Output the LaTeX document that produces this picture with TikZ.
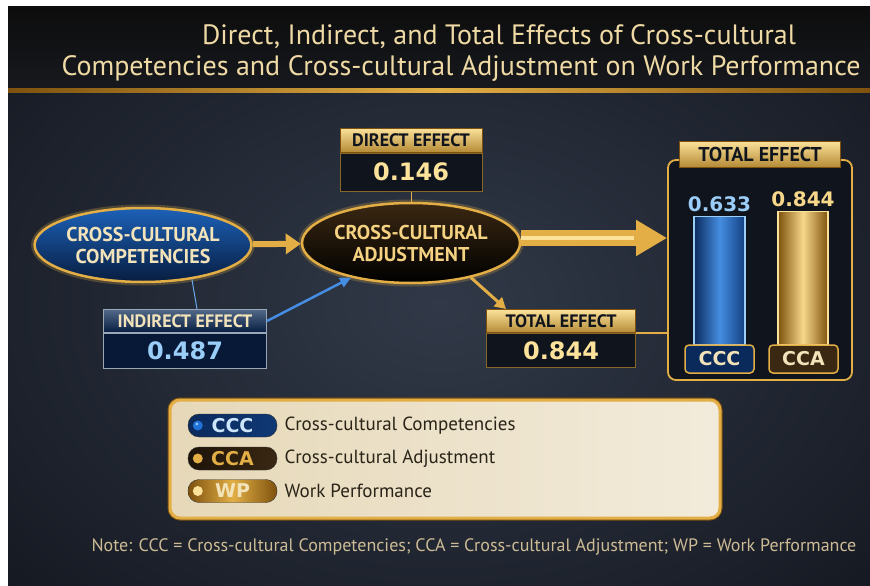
\documentclass[tikz,border=0pt]{standalone}
\usepackage{fontspec}
\setmainfont{PT Sans}
\newfontfamily\widefont{DejaVu Sans}
\usetikzlibrary{shapes.geometric, positioning, arrows.meta}

\definecolor{gold}{HTML}{E2AE45}
\definecolor{goldlight}{HTML}{FCE29A}
\definecolor{golddark}{HTML}{7E520E}
\definecolor{cream}{HTML}{F2E3BA}
\definecolor{titlegold}{HTML}{EFD9A4}
\definecolor{navy}{HTML}{0B2A5C}
\definecolor{bluemid}{HTML}{2172D8}
\definecolor{bluelight}{HTML}{9ACDF8}
\definecolor{ink}{HTML}{10141C}
\definecolor{steel}{HTML}{9AA7B6}
\definecolor{ccabrown}{HTML}{3A2812}
\definecolor{parchment}{HTML}{E6D8B8}
\definecolor{legendink}{HTML}{2A2418}
\definecolor{notetext}{HTML}{CDBB95}
\definecolor{bgmid}{HTML}{313948}
\definecolor{bgedge}{HTML}{0E1118}
\definecolor{bgtop}{HTML}{17191E}

\newcommand{\fsz}[1]{\fontsize{#1}{#1}\selectfont}

\tikzset{
	construct/.style={ellipse, draw=gold, line width=2.5pt, inner sep=0pt, align=center, font=\bfseries\fontsize{20}{22}\selectfont, preaction={draw=gold, line width=7pt, opacity=0.25}},
	taglabel/.style={draw=golddark, line width=1pt, top color=goldlight, bottom color=gold!80!black, text=ink, inner sep=0pt, minimum height=24pt, font=\bfseries\fsz{18}},
	tagvalue/.style={draw=gold!60!black, line width=1pt, fill=ink, text=goldlight, inner sep=0pt, minimum height=36pt, font=\widefont\bfseries\fsz{24}},
	bar/.style={draw, line width=1.5pt, anchor=south, inner sep=0pt},
	bartag/.style={draw=gold, line width=1.5pt, rounded corners=4pt, minimum width=69pt, minimum height=28pt, inner sep=0pt, text=cream, font=\widefont\bfseries\fsz{19}},
	pill/.style={draw=black!80, rounded corners=11pt, minimum width=89pt, minimum height=23pt, inner sep=0pt, font=\widefont\bfseries\fsz{19}},
	legendtext/.style={text=legendink, font=\fsz{19}},
}

\begin{document}
\begin{tikzpicture}[x=1pt, y=-1pt]
	\useasboundingbox (0,0) rectangle (870,586);
	\fill[white] (0,0) rectangle (870,586);
	\clip (8,7) rectangle (870,586);
	\fill[bgedge] (8,7) rectangle (870,586);
	\shade[inner color=bgmid, outer color=bgedge] (-300,-220) rectangle (1180,830);
	\shade[top color=black!95, bottom color=bgtop] (8,7) rectangle (870,90);
	\shade[left color=golddark, right color=golddark, middle color=gold] (8,88) rectangle (870,92);

	\node[text=titlegold, font=\fsz{28}] (title1) at (499,37) {Direct, Indirect, and Total Effects of Cross-cultural};
	\node[text=titlegold, font=\fsz{28}] (title2) at (461,68) {Competencies and Cross-cultural Adjustment on Work Performance};

	\node[construct, minimum width=214pt, minimum height=74pt, top color=bluemid!85!black, bottom color=navy!70!black, text=cream] (ccc) at (143,245) {CROSS-CULTURAL\\COMPETENCIES};
	\node[construct, minimum width=218pt, minimum height=80pt, top color=ccabrown, bottom color=black, text=goldlight!70!gold] (cca) at (411,243) {CROSS-CULTURAL\\ADJUSTMENT};

	\node[taglabel, minimum width=142pt] (dirlabel) at (411,140) {DIRECT EFFECT};
	\node[tagvalue, minimum width=142pt, minimum height=38pt, below=0pt of dirlabel] (dirvalue) {0.146};
	\node[taglabel, draw=steel, top color=steel!50!navy, bottom color=navy!70!black, text=cream, minimum width=163pt, minimum height=23pt] (indlabel) at (185,321) {INDIRECT EFFECT};
	\node[tagvalue, draw=steel, fill=navy!60!black, text=bluelight, minimum width=163pt, minimum height=35pt, below=0pt of indlabel] (indvalue) {0.487};
	\node[taglabel, minimum width=149pt, minimum height=23pt] (totlabel) at (561,321) {TOTAL EFFECT};
	\node[tagvalue, minimum width=149pt, minimum height=34pt, below=0pt of totlabel] (totvalue) {0.844};

	\node[draw=gold, line width=1.8pt, rounded corners=8pt, fill=ink, minimum width=184pt, minimum height=220pt] (panel) at (760,270) {};
	\node[taglabel, minimum width=161pt, minimum height=26pt, font=\bfseries\fsz{20}] (panellabel) at (760,154) {TOTAL EFFECT};
	\node[bar, draw=bluelight, minimum width=51pt, minimum height=128pt, left color=navy, right color=navy!70!bluemid, middle color=bluemid!70!bluelight] (barccc) at (719.5,345) {};
	\node[bar, draw=goldlight, minimum width=50pt, minimum height=133pt, left color=golddark, right color=golddark, middle color=goldlight!80!gold] (barcca) at (803,345) {};
	\node[above=0pt of barccc, text=bluelight, font=\widefont\bfseries\fsz{20}] (valccc) {0.633};
	\node[above=0pt of barcca, text=goldlight!80!gold, font=\widefont\bfseries\fsz{20}] (valcca) {0.844};
	\node[bartag, fill=navy] (tagccc) at (719.5,359) {CCC};
	\node[bartag, fill=ccabrown] (tagcca) at (803.5,359) {CCA};

	\draw[gold, line width=6pt, -{Triangle[length=15pt, width=20pt]}] (ccc) -- (cca);
	\draw[gold, line width=16pt, -{Triangle[length=31pt, width=34pt]}] ([yshift=5pt]cca.east) -- ([yshift=5pt]cca.east -| panel.west);
	\draw[goldlight, line width=4pt, shorten >=33pt] ([yshift=5pt]cca.east) -- ([yshift=5pt]cca.east -| panel.west);
	\draw[gold, line width=3pt, -{Triangle[length=11pt, width=12pt]}] (cca.-30) -- ([xshift=20pt]totlabel.north west);
	\draw[gold, line width=1.5pt] (totvalue.north east) -- (totvalue.north east -| panel.west);
	\draw[gold, line width=1pt] (dirvalue) -- (cca);
	\draw[bluelight!60!bluemid, line width=1pt] (ccc.-35) -- ([xshift=12pt]indlabel.north);
	\draw[bluemid!70!bluelight, line width=2.5pt, -{Triangle[length=11pt, width=10pt]}] (indlabel.east) -- (cca.-150);

	\node[draw=gold, line width=3pt, rounded corners=10pt, left color=parchment, right color=parchment!50!white, minimum width=550pt, minimum height=118pt, preaction={draw=golddark, line width=5pt}] (legend) at (445,459) {};
	\node[pill, left color=navy, right color=navy!80!bluemid, text=bluelight!50!white] (pillccc) at (232.5,425.5) {CCC};
	\node[pill, left color=black!85!brown, right color=ccabrown, text=gold] (pillcca) at (232.5,458.5) {CCA};
	\node[pill, left color=golddark, right color=golddark, middle color=gold, text=cream] (pillwp) at (232.5,491) {WP};
	\fill[bluemid] ([xshift=10pt]pillccc.west) circle (5pt);
	\fill[bluelight] ([xshift=9pt, yshift=1.5pt]pillccc.west) circle (1.5pt);
	\fill[gold] ([xshift=10pt]pillcca.west) circle (5pt);
	\fill[goldlight] ([xshift=10pt]pillwp.west) circle (5pt);
	\node[legendtext, right=4pt of pillccc] (descccc) {Cross-cultural Competencies};
	\node[legendtext, right=4pt of pillcca] (desccca) {Cross-cultural Adjustment};
	\node[legendtext, right=4pt of pillwp] (descwp) {Work Performance};

	\node[anchor=west, text=notetext, font=\fsz{18}] (note) at (88,547) {Note: CCC = Cross-cultural Competencies; CCA = Cross-cultural Adjustment; WP = Work Performance};
\end{tikzpicture}
\end{document}
